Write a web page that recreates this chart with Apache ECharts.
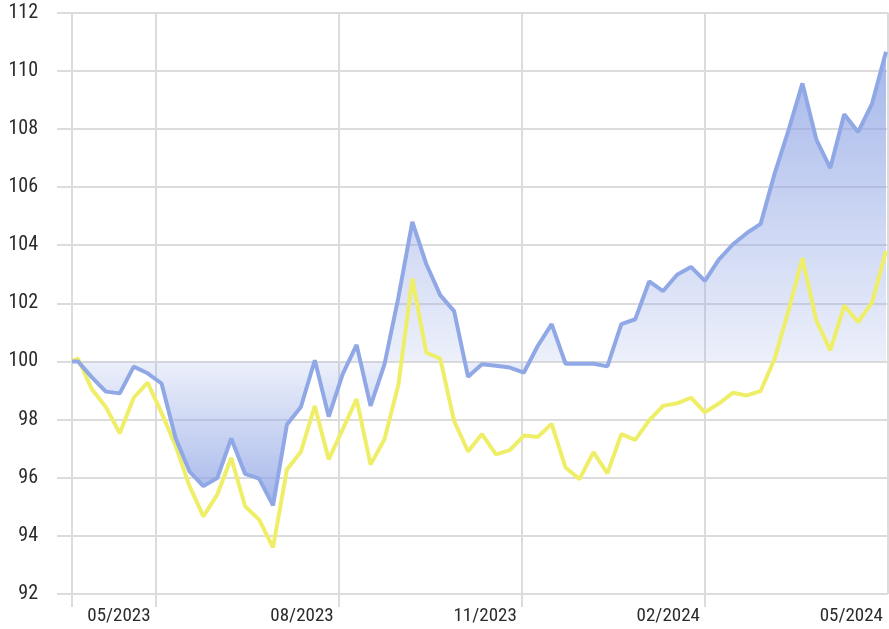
<!DOCTYPE html>
<html>
<head>
<meta charset="utf-8">
<script src="https://cdn.jsdelivr.net/npm/echarts@6/dist/echarts.min.js"></script>
<style>
  html, body { margin: 0; padding: 0; background: #fff; }
  #chart { width: 889px; height: 629px; }
</style>
</head>
<body>
<div id="chart"></div>
<script>
// observation dates (start + weekly)
var obsDates = ['2023-03-20',
  '2023-03-23', '2023-03-30', '2023-04-06', '2023-04-13', '2023-04-20', '2023-04-27',
  '2023-05-04', '2023-05-11', '2023-05-18', '2023-05-25', '2023-06-01', '2023-06-08',
  '2023-06-15', '2023-06-22', '2023-06-29', '2023-07-06', '2023-07-13', '2023-07-20',
  '2023-07-27', '2023-08-03', '2023-08-10', '2023-08-17', '2023-08-24', '2023-08-31',
  '2023-09-07', '2023-09-14', '2023-09-21', '2023-09-28', '2023-10-05', '2023-10-12',
  '2023-10-19', '2023-10-26', '2023-11-02', '2023-11-09', '2023-11-16', '2023-11-23',
  '2023-11-30', '2023-12-07', '2023-12-14', '2023-12-21', '2023-12-28', '2024-01-04',
  '2024-01-11', '2024-01-18', '2024-01-25', '2024-02-01', '2024-02-08', '2024-02-15',
  '2024-02-22', '2024-02-29', '2024-03-07', '2024-03-14', '2024-03-21', '2024-03-28',
  '2024-04-04', '2024-04-11', '2024-04-18', '2024-04-25', '2024-05-02'];

var blueVals = [100.0,
  100.0, 99.45, 98.96, 98.90, 99.82, 99.59,
  99.24, 97.37, 96.22, 95.71, 95.99, 97.35,
  96.13, 95.97, 95.05, 97.83, 98.43, 100.04,
  98.10, 99.56, 100.57, 98.47, 99.90, 102.2,
  104.8, 103.35, 102.28, 101.73, 99.47, 99.90,
  99.85, 99.79, 99.61, 100.53, 101.28, 99.92,
  99.92, 99.92, 99.83, 101.28, 101.45, 102.75,
  102.42, 102.98, 103.25, 102.77, 103.50, 104.02,
  104.41, 104.73, 106.45, 107.95, 109.56, 107.63,
  106.65, 108.50, 107.89, 108.87, 110.65];

var yellowVals = [100.0,
  100.1, 99.04, 98.43, 97.53, 98.75, 99.27,
  98.23, 97.1, 95.72, 94.67, 95.42, 96.68,
  95.02, 94.56, 93.60, 96.28, 96.89, 98.47,
  96.63, 97.66, 98.70, 96.45, 97.32, 99.2,
  102.85, 100.3, 100.1, 97.95, 96.9, 97.5,
  96.8, 96.95, 97.45, 97.4, 97.85, 96.35,
  95.95, 96.88, 96.15, 97.5, 97.3, 97.97,
  98.47, 98.56, 98.75, 98.25, 98.55, 98.92,
  98.83, 98.98, 100.08, 101.74, 103.55, 101.4,
  100.38, 101.92, 101.35, 102.03, 103.8];

var axisStart = '2023-03-20';
var axisEnd = '2024-05-03';
var tickDates = ['2023-03-20', '2023-05-01', '2023-08-01', '2023-11-01', '2024-02-01'];
var gridDates = ['2023-03-20', '2023-05-01', '2023-08-01', '2023-11-01', '2024-02-01', '2024-05-03'];
var labelDates = ['2023-05-01', '2023-08-01', '2023-11-01', '2024-02-01', '2024-05-03'];
var labelTexts = ['05/2023', '08/2023', '11/2023', '02/2024', '05/2024'];

// daily category axis so weekly points sit at their real dates
var days = [];
var d = new Date(axisStart + 'T00:00:00Z');
var end = new Date(axisEnd + 'T00:00:00Z');
while (d <= end) {
  days.push(d.toISOString().slice(0, 10));
  d = new Date(d.getTime() + 86400000);
}

function toDaily(vals) {
  var m = {};
  obsDates.forEach(function (dt, i) { m[dt] = vals[i]; });
  return days.map(function (dt) { return m[dt] !== undefined ? m[dt] : '-'; });
}

var bMax = Math.max.apply(null, blueVals);
var bMin = Math.min.apply(null, blueVals);
var mid = (bMax - 100) / (bMax - bMin);

var font = "'Roboto Condensed', Roboto, sans-serif";
var gridColor = '#dcdcdc';

var chart = echarts.init(document.getElementById('chart'));
chart.setOption({
  animation: false,
  grid: { left: 72, right: 1, top: 12.5, bottom: 35, containLabel: false, outerBoundsMode: 'none' },
  xAxis: {
    type: 'category',
    data: days,
    boundaryGap: false,
    axisLine: { show: false },
    axisTick: {
      show: true,
      length: 13,
      interval: function (i, v) { return tickDates.indexOf(v) >= 0; },
      lineStyle: { color: gridColor, width: 2 }
    },
    splitLine: {
      show: true,
      interval: function (i, v) { return gridDates.indexOf(v) >= 0; },
      lineStyle: { color: gridColor, width: 2 }
    },
    axisLabel: {
      interval: function (i, v) { return labelDates.indexOf(v) >= 0; },
      formatter: function (v) { return labelTexts[labelDates.indexOf(v)]; },
      align: 'right',
      padding: [0, 5, 0, 0],
      margin: 13,
      fontFamily: font,
      fontSize: 19,
      color: '#2b2b2b'
    }
  },
  yAxis: {
    type: 'value',
    min: 92,
    max: 112,
    interval: 2,
    axisLine: { show: false },
    axisTick: { show: true, length: 15, lineStyle: { color: gridColor, width: 2 } },
    splitLine: { lineStyle: { color: gridColor, width: 2 } },
    axisLabel: { margin: 34, fontFamily: font, fontSize: 20, color: '#2b2b2b' }
  },
  series: [
    {
      type: 'line',
      data: toDaily(yellowVals),
      connectNulls: true,
      showSymbol: false,
      lineStyle: { color: '#efee68', width: 4 }
    },
    {
      type: 'line',
      data: toDaily(blueVals),
      connectNulls: true,
      showSymbol: false,
      lineStyle: { color: '#91a8e6', width: 4 },
      areaStyle: {
        origin: 100,
        opacity: 1,
        color: new echarts.graphic.LinearGradient(0, 0, 0, 1, [
          { offset: 0, color: 'rgba(140,162,228,0.78)' },
          { offset: mid, color: 'rgba(140,162,228,0.16)' },
          { offset: 1, color: 'rgba(140,162,228,0.78)' }
        ])
      }
    }
  ]
});
</script>
</body>
</html>
